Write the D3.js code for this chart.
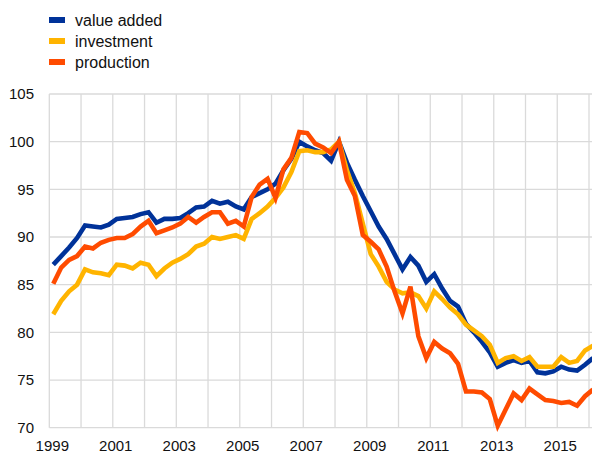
<!DOCTYPE html>
<html>
<head>
<meta charset="utf-8">
<script src="https://cdn.jsdelivr.net/npm/d3@7"></script>
<style>
  body { margin: 0; background: #fff; }
  svg { display: block; font-family: "Liberation Sans", Arial, sans-serif; }
</style>
</head>
<body>
<svg id="chart"></svg>
<script>
var width = 592;
var height = 453;

// quarterly series, 1999 Q1 - 2016 Q1
var startYear = 1999;

var valueAdded = [
  87.1, 88.0, 88.9, 89.9, 91.2, 91.1, 91.0, 91.3,
  91.9, 92.0, 92.1, 92.4, 92.6, 91.5, 91.9, 91.9,
  92.0, 92.5, 93.1, 93.2, 93.8, 93.5, 93.7, 93.2,
  92.9, 94.2, 94.6, 95.0, 95.6, 97.0, 98.2, 100.0,
  99.5, 99.1, 98.8, 98.0, 100.0, 97.8, 96.0, 94.3,
  92.7, 91.1, 89.8, 88.2, 86.6, 87.9, 87.0, 85.3,
  86.1, 84.6, 83.3, 82.7, 80.9, 80.0, 79.0, 77.9,
  76.4, 76.8, 77.1, 76.8, 77.0, 75.8, 75.7, 75.9,
  76.4, 76.1, 76.0, 76.6, 77.3
];

var investment = [
  81.9, 83.3, 84.3, 85.0, 86.6, 86.3, 86.2, 86.0,
  87.1, 87.0, 86.7, 87.3, 87.1, 85.9, 86.7, 87.3,
  87.7, 88.2, 89.0, 89.3, 90.0, 89.8, 90.0, 90.2,
  89.8, 91.9, 92.5, 93.2, 94.1, 95.2, 96.8, 99.0,
  99.1, 98.9, 98.9, 99.2, 100.0, 97.0, 94.6, 91.4,
  88.2, 86.9, 85.3, 84.5, 84.1, 84.2, 83.8, 82.5,
  84.3, 83.5, 82.6, 81.9, 80.8, 80.2, 79.6, 78.7,
  76.8, 77.3, 77.5, 77.0, 77.4, 76.4, 76.4, 76.4,
  77.4, 76.8, 77.0, 78.1, 78.6
];

var production = [
  85.1, 86.8, 87.6, 88.0, 89.0, 88.8, 89.4, 89.7,
  89.9, 89.9, 90.3, 91.1, 91.7, 90.4, 90.7, 91.0,
  91.4, 92.1, 91.5, 92.1, 92.6, 92.6, 91.4, 91.7,
  91.1, 94.2, 95.5, 96.1, 94.1, 97.1, 98.3, 101.0,
  100.9, 99.8, 99.4, 98.8, 100.0, 96.0, 94.3, 90.2,
  89.5, 88.7, 86.9, 84.3, 82.0, 84.8, 79.6, 77.3,
  79.0, 78.3, 77.8, 76.7, 73.8, 73.8, 73.7, 73.0,
  70.2, 71.9, 73.6, 72.9, 74.1, 73.5, 72.9, 72.8,
  72.6, 72.7, 72.3, 73.3, 74.0
];

var seriesNames = ['value added', 'investment', 'production'];
var seriesColors = ['#003299', '#ffb400', '#ff4b00'];
var seriesValues = [valueAdded, investment, production];

var yTicks = [70, 75, 80, 85, 90, 95, 100, 105];
var xLabelYears = [1999, 2001, 2003, 2005, 2007, 2009, 2011, 2013, 2015];
var xGridYears = d3.range(1999, 2017);

// Scales

var xScale = d3.scaleLinear()
                .domain([1999, 2016])
                .range([49.3, 589]);

var yScale = d3.scaleLinear()
                .domain([70, 105])
                .range([427.7, 94]);

var svg = d3.select('#chart')
    .attr('width', width)
    .attr('height', height);

// Grid

var grid = svg.append('g')
    .attr('stroke', '#dadada')
    .attr('stroke-width', 1.3);

grid.selectAll('line.h')
    .data(yTicks)
    .enter()
    .append('line')
        .attr('class', 'h')
        .attr('x1', xScale(1999))
        .attr('x2', width)
        .attr('y1', d => yScale(d))
        .attr('y2', d => yScale(d));

grid.selectAll('line.v')
    .data(xGridYears)
    .enter()
    .append('line')
        .attr('class', 'v')
        .attr('x1', d => xScale(d))
        .attr('x2', d => xScale(d))
        .attr('y1', yScale(105))
        .attr('y2', yScale(70));

// Axis labels

svg.append('g')
    .selectAll('text')
    .data(yTicks)
    .enter()
    .append('text')
        .attr('x', 34)
        .attr('y', d => yScale(d))
        .attr('dy', '0.36em')
        .style('text-anchor', 'end')
        .style('font-size', '15px')
        .attr('fill', '#111')
        .text(d => d);

svg.append('g')
    .selectAll('text')
    .data(xLabelYears)
    .enter()
    .append('text')
        .attr('x', d => xScale(d) + 3)
        .attr('y', 451)
        .style('text-anchor', 'middle')
        .style('font-size', '15px')
        .attr('fill', '#111')
        .text(d => d);

// Lines

var line = d3.line()
    .x((d, i) => xScale(startYear + (i + 0.5) / 4))
    .y(d => yScale(d));

svg.append('g')
    .selectAll('path')
    .data(seriesValues)
    .enter()
    .append('path')
        .attr('d', d => line(d))
        .attr('fill', 'none')
        .attr('stroke', (d, i) => seriesColors[i])
        .attr('stroke-width', 4.6)
        .attr('stroke-linejoin', 'miter');

// Legend

var legend = svg.append('g')
    .selectAll('g')
    .data(seriesNames)
    .enter()
    .append('g')
        .attr('transform', (d, i) => 'translate(49,' + (20 + i * 21) + ')');

legend.append('rect')
    .attr('x', 0)
    .attr('y', -3)
    .attr('width', 16)
    .attr('height', 6)
    .attr('fill', (d, i) => seriesColors[i]);

legend.append('text')
    .attr('x', 26)
    .attr('y', 0)
    .attr('dy', '0.35em')
    .style('font-size', '16px')
    .attr('fill', '#111')
    .text(d => d);
</script>
</body>
</html>
